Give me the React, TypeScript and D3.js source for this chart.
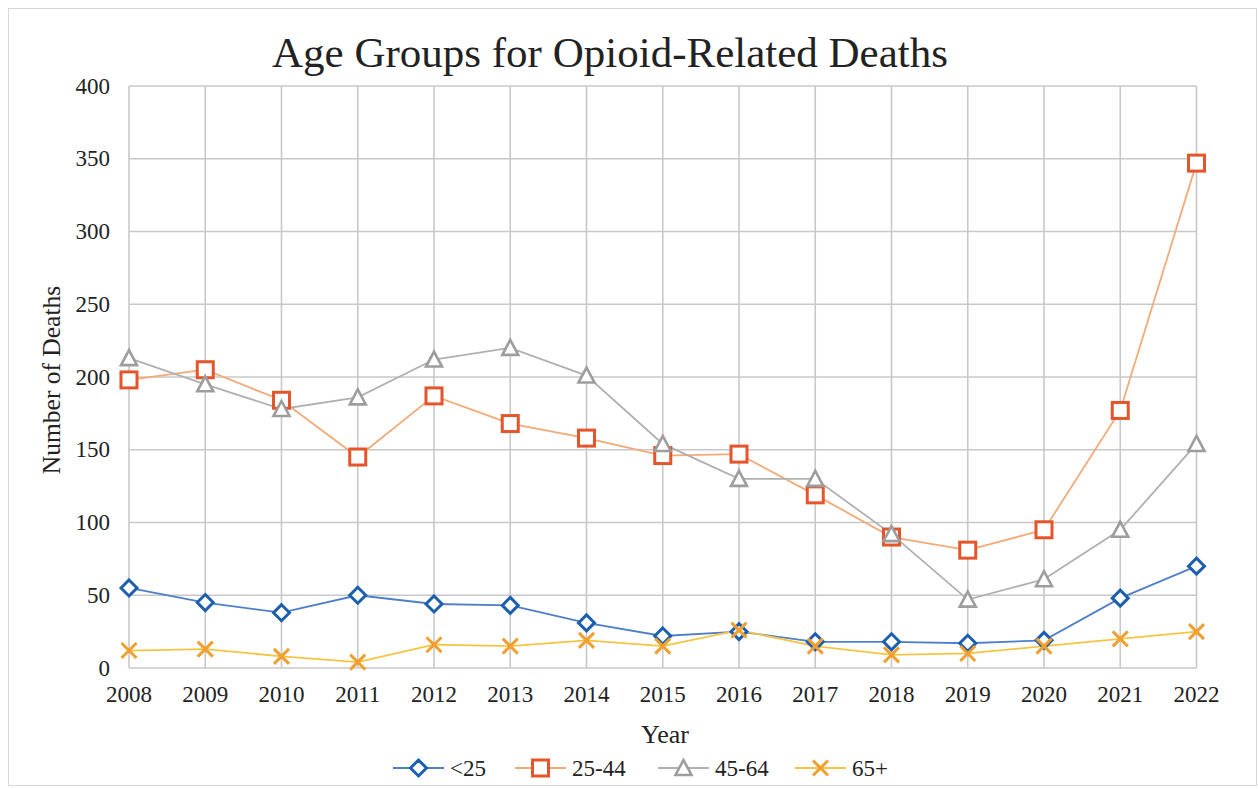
import React, { useEffect, useRef } from "react";
import * as d3 from "d3";

const years = [2008, 2009, 2010, 2011, 2012, 2013, 2014, 2015, 2016, 2017, 2018, 2019, 2020, 2021, 2022];
const under25 = [55, 45, 38, 50, 44, 43, 31, 22, 25, 18, 18, 17, 19, 48, 70];
const age25to44 = [198, 205, 184, 145, 187, 168, 158, 146, 147, 119, 90, 81, 95, 177, 347];
const age45to64 = [213, 195, 178, 186, 212, 220, 201, 154, 130, 130, 92, 47, 61, 95, 154];
const age65plus = [12, 13, 8, 4, 16, 15, 19, 15, 26, 15, 9, 10, 15, 20, 25];
const yTicks = [0, 50, 100, 150, 200, 250, 300, 350, 400];
const seriesNames = ["<25", "25-44", "45-64", "65+"];

const FONT = "'Liberation Serif', 'Times New Roman', serif";

export default function App() {
  const ref = useRef<SVGSVGElement>(null);
  useEffect(() => {
    const svg = d3.select(ref.current);
    svg.selectAll("*").remove();
    const W = 1258, H = 789;
    const x0 = 129, x1 = 1196.5, yTop = 86, yBot = 668;
    const x = d3.scaleLinear().domain([2008, 2022]).range([x0, x1]);
    const y = d3.scaleLinear().domain([0, 400]).range([yBot, yTop]);

    svg.append("rect").attr("x", 0).attr("y", 0).attr("width", W).attr("height", H).attr("fill", "#fff");
    svg.append("rect").attr("x", 8.5).attr("y", 8.5).attr("width", 1248).attr("height", 777)
      .attr("fill", "none").attr("stroke", "#d6d6d6").attr("stroke-width", 1);

    // title
    svg.append("text").attr("x", 610).attr("y", 67).attr("text-anchor", "middle")
      .attr("font-family", FONT).attr("font-size", 43).attr("fill", "#222").text("Age Groups for Opioid-Related Deaths");

    // grid
    const g = svg.append("g");
    g.selectAll("line.h").data(yTicks).enter().append("line")
      .attr("x1", x0).attr("x2", x1).attr("y1", (d) => y(d)).attr("y2", (d) => y(d))
      .attr("stroke", "#c8c8c8").attr("stroke-width", 1.6);
    g.selectAll("line.v").data(years).enter().append("line")
      .attr("y1", yTop).attr("y2", yBot).attr("x1", (d) => x(d)).attr("x2", (d) => x(d))
      .attr("stroke", "#c8c8c8").attr("stroke-width", 1.6);

    // y tick labels
    g.selectAll("text.yt").data(yTicks).enter().append("text")
      .attr("x", 110).attr("y", (d) => y(d) + 7.5).attr("text-anchor", "end")
      .attr("font-family", FONT).attr("font-size", 23).attr("fill", "#222").text((d) => String(d));
    // x tick labels
    g.selectAll("text.xt").data(years).enter().append("text")
      .attr("x", (d) => x(d)).attr("y", 702).attr("text-anchor", "middle")
      .attr("font-family", FONT).attr("font-size", 23).attr("fill", "#222").text((d) => String(d));

    // axis titles
    svg.append("text").attr("x", 665).attr("y", 743).attr("text-anchor", "middle")
      .attr("font-family", FONT).attr("font-size", 26).attr("fill", "#222").text("Year");
    svg.append("text").attr("transform", `translate(60,${(yTop + yBot) / 2 + 3}) rotate(-90)`)
      .attr("text-anchor", "middle").attr("font-family", FONT).attr("font-size", 25.5).attr("fill", "#222")
      .text("Number of Deaths");

    const styles = [
      { data: under25, line: "#4f7fc8", mark: "#1b5fae", shape: "diamond" },
      { data: age25to44, line: "#f2aa78", mark: "#e4552b", shape: "square" },
      { data: age45to64, line: "#b0b0b0", mark: "#9d9d9d", shape: "triangle" },
      { data: age65plus, line: "#f5c542", mark: "#f0a030", shape: "x" },
    ];

    const drawMarker = (sel: any, shape: string, color: string, cx: number, cy: number) => {
      if (shape === "diamond") {
        const r = 8;
        sel.append("path").attr("d", `M${cx},${cy - r}L${cx + r},${cy}L${cx},${cy + r}L${cx - r},${cy}Z`)
          .attr("fill", "#fff").attr("stroke", color).attr("stroke-width", 3);
      } else if (shape === "square") {
        const r = 8;
        sel.append("rect").attr("x", cx - r).attr("y", cy - r).attr("width", 2 * r).attr("height", 2 * r)
          .attr("fill", "#fff").attr("stroke", color).attr("stroke-width", 3);
      } else if (shape === "triangle") {
        const r = 8;
        sel.append("path").attr("d", `M${cx},${cy - r}L${cx + r},${cy + r - 1}L${cx - r},${cy + r - 1}Z`)
          .attr("fill", "#fff").attr("stroke", color).attr("stroke-width", 2.6);
      } else {
        const r = 7.5;
        sel.append("path").attr("d", `M${cx - r},${cy - r}L${cx + r},${cy + r}M${cx + r},${cy - r}L${cx - r},${cy + r}`)
          .attr("stroke", color).attr("stroke-width", 3).attr("fill", "none");
      }
    };

    const lineGen = d3.line<number>().x((_, i) => x(years[i])).y((d) => y(d));
    styles.forEach((s) => {
      svg.append("path").attr("d", lineGen(s.data)).attr("fill", "none")
        .attr("stroke", s.line).attr("stroke-width", 1.8);
    });
    styles.forEach((s) => {
      const mg = svg.append("g");
      s.data.forEach((v, i) => drawMarker(mg, s.shape, s.mark, x(years[i]), y(v)));
    });

    // legend
    const legendX = [393, 515, 658, 795];
    const ly = 768;
    styles.forEach((s, i) => {
      const lx = legendX[i];
      svg.append("line").attr("x1", lx).attr("x2", lx + 51).attr("y1", ly).attr("y2", ly)
        .attr("stroke", s.line).attr("stroke-width", 1.8);
      drawMarker(svg, s.shape, s.mark, lx + 25.5, ly);
      svg.append("text").attr("x", lx + 57).attr("y", ly + 8).attr("font-family", FONT)
        .attr("font-size", 23).attr("fill", "#222").text(seriesNames[i]);
    });
  }, []);
  return (
    <svg ref={ref} width={1258} height={789}
      style={{ position: "absolute", left: 0, top: 0, display: "block" }} />
  );
}
